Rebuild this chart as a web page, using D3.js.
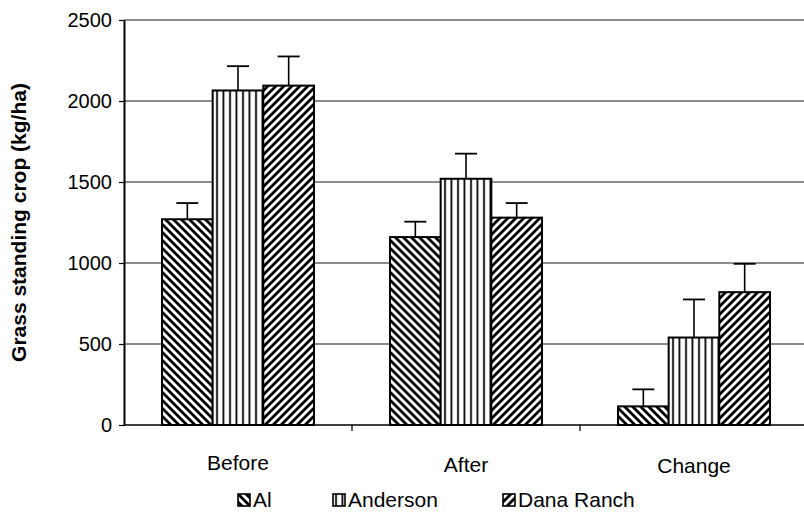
<!DOCTYPE html>
<html>
<head>
<meta charset="utf-8">
<script src="https://cdn.jsdelivr.net/npm/d3@7"></script>
<style>
  body { margin: 0; background: #fff; }
  text { font-family: "Liberation Sans", Arial, sans-serif; fill: #000; }
</style>
</head>
<body>
<script>
// chart data
var categories = ["Before", "After", "Change"];
var seriesNames = ["Al", "Anderson", "Dana Ranch"];
var alValues = [1270, 1160, 115];
var alErrors = [100, 95, 105];
var andersonValues = [2065, 1520, 540];
var andersonErrors = [150, 155, 235];
var danaValues = [2095, 1280, 820];
var danaErrors = [180, 90, 175];
var yTicks = [0, 500, 1000, 1500, 2000, 2500];

var seriesValues = [alValues, andersonValues, danaValues];
var seriesErrors = [alErrors, andersonErrors, danaErrors];
var patternIds = ["pat-al", "pat-anderson", "pat-dana"];

var width = 804, height = 522;
var margin = {top: 20, left: 124, right: -4, bottom: 97};

var svg = d3.select("body").append("svg")
  .attr("width", width)
  .attr("height", height);

// hatch patterns
var defs = svg.append("defs");

var p1 = defs.append("pattern").attr("id", "pat-al")
  .attr("patternUnits", "userSpaceOnUse").attr("width", 8).attr("height", 8);
p1.append("rect").attr("width", 8).attr("height", 8).attr("fill", "#fff");
p1.append("path").attr("d", "M0,0 L8,8 M-2,6 L2,10 M6,-2 L10,2")
  .attr("stroke", "#000").attr("stroke-width", 2.8);

var p2 = defs.append("pattern").attr("id", "pat-anderson")
  .attr("patternUnits", "userSpaceOnUse").attr("width", 6.5).attr("height", 8);
p2.append("rect").attr("width", 6.5).attr("height", 8).attr("fill", "#fff");
p2.append("line").attr("x1", 3).attr("x2", 3).attr("y1", 0).attr("y2", 8)
  .attr("stroke", "#000").attr("stroke-width", 1.8);

var p3 = defs.append("pattern").attr("id", "pat-dana")
  .attr("patternUnits", "userSpaceOnUse").attr("width", 8).attr("height", 8);
p3.append("rect").attr("width", 8).attr("height", 8).attr("fill", "#fff");
p3.append("path").attr("d", "M0,8 L8,0 M-2,2 L2,-2 M6,10 L10,6")
  .attr("stroke", "#000").attr("stroke-width", 2.8);

// scales
var x0 = d3.scaleBand()
  .domain(categories)
  .range([margin.left, width - margin.right])
  .paddingInner(1 / 3)
  .paddingOuter(1 / 6);

var x1 = d3.scaleBand()
  .domain(seriesNames)
  .range([0, x0.bandwidth()]);

var y = d3.scaleLinear()
  .domain([0, 2500])
  .range([height - margin.bottom, margin.top]);

// gridlines
svg.append("g")
  .selectAll("line")
  .data(yTicks.filter(function(d) { return d > 0; }))
  .enter().append("line")
  .attr("x1", margin.left)
  .attr("x2", width)
  .attr("y1", function(d) { return y(d); })
  .attr("y2", function(d) { return y(d); })
  .attr("stroke", "#1a1a1a")
  .attr("stroke-width", 1.2);

// y axis
var yAxis = svg.append("g")
  .attr("transform", "translate(" + margin.left + ",0)")
  .call(d3.axisLeft(y).tickValues(yTicks).tickFormat(d3.format("d"))
    .tickSize(5).tickSizeOuter(0).tickPadding(7));
yAxis.select(".domain").attr("stroke", "#000").attr("stroke-width", 2);
yAxis.selectAll(".tick line").attr("stroke", "#000").attr("stroke-width", 1.2);
yAxis.selectAll("text")
  .style("font-size", "20px")
  .style("font-family", "'Liberation Sans', Arial, sans-serif");

// bars
var groups = svg.append("g")
  .selectAll("g")
  .data(categories)
  .enter().append("g")
  .attr("transform", function(d) { return "translate(" + x0(d) + ",0)"; });

groups.selectAll("rect")
  .data(function(d, i) {
    return seriesNames.map(function(s, j) {
      return {series: s, idx: j, value: seriesValues[j][i], err: seriesErrors[j][i]};
    });
  })
  .enter().append("rect")
  .attr("x", function(d) { return x1(d.series); })
  .attr("y", function(d) { return y(d.value); })
  .attr("width", x1.bandwidth())
  .attr("height", function(d) { return y(0) - y(d.value); })
  .attr("fill", function(d) { return "url(#" + patternIds[d.idx] + ")"; })
  .attr("stroke", "#000")
  .attr("stroke-width", 2);

// error bars (upper only)
var errs = groups.selectAll("g.err")
  .data(function(d, i) {
    return seriesNames.map(function(s, j) {
      return {series: s, value: seriesValues[j][i], err: seriesErrors[j][i]};
    });
  })
  .enter().append("g").attr("class", "err");

errs.append("line")
  .attr("x1", function(d) { return x1(d.series) + x1.bandwidth() / 2; })
  .attr("x2", function(d) { return x1(d.series) + x1.bandwidth() / 2; })
  .attr("y1", function(d) { return y(d.value); })
  .attr("y2", function(d) { return y(d.value + d.err); })
  .attr("stroke", "#000").attr("stroke-width", 1.6);

errs.append("line")
  .attr("x1", function(d) { return x1(d.series) + x1.bandwidth() / 2 - 11; })
  .attr("x2", function(d) { return x1(d.series) + x1.bandwidth() / 2 + 11; })
  .attr("y1", function(d) { return y(d.value + d.err); })
  .attr("y2", function(d) { return y(d.value + d.err); })
  .attr("stroke", "#000").attr("stroke-width", 1.8);

// x axis line and category ticks between groups
svg.append("line")
  .attr("x1", margin.left).attr("x2", width)
  .attr("y1", y(0)).attr("y2", y(0))
  .attr("stroke", "#000").attr("stroke-width", 1.6);

svg.append("g")
  .selectAll("line")
  .data(categories.slice(1))
  .enter().append("line")
  .attr("x1", function(d) { return x0(d) - x0.step() * x0.paddingInner() / 2; })
  .attr("x2", function(d) { return x0(d) - x0.step() * x0.paddingInner() / 2; })
  .attr("y1", y(0))
  .attr("y2", y(0) + 6)
  .attr("stroke", "#000").attr("stroke-width", 1.2);

svg.append("g")
  .selectAll("text")
  .data(categories)
  .enter().append("text")
  .attr("x", function(d) { return x0(d) + x0.bandwidth() / 2; })
  .attr("y", function(d, i) { return 470 + i * 1.5; })
  .attr("text-anchor", "middle")
  .style("font-size", "21px")
  .text(function(d) { return d; });

// y title
svg.append("text")
  .attr("transform", "translate(26," + ((margin.top + y(0)) / 2) + ") rotate(-90)")
  .attr("text-anchor", "middle")
  .style("font-size", "21px")
  .style("font-weight", "bold")
  .text("Grass standing crop (kg/ha)");

// legend
var legendX = [238, 333, 503];
var legend = svg.append("g")
  .selectAll("g")
  .data(seriesNames)
  .enter().append("g")
  .attr("transform", function(d, i) { return "translate(" + legendX[i] + ",494)"; });

legend.append("rect")
  .attr("width", 12).attr("height", 12)
  .attr("fill", function(d, i) { return "url(#" + patternIds[i] + ")"; })
  .attr("stroke", "#000").attr("stroke-width", 1.6);

legend.append("text")
  .attr("x", 15)
  .attr("y", 13)
  .style("font-size", "21px")
  .text(function(d) { return d; });
</script>
</body>
</html>
